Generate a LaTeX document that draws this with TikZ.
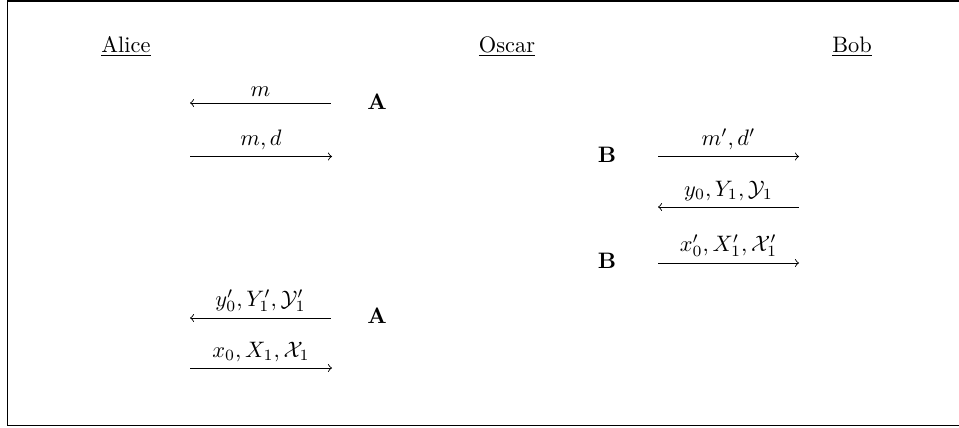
\documentclass[tikz,border=0pt]{standalone}
\usetikzlibrary{positioning}
\begin{document}
\begin{tikzpicture}[x=0.447pt,y=-0.447pt,
    msg/.style={above, inner sep=2.6pt},
    stage/.style={anchor=base, font=\bfseries}]
    \useasboundingbox (0,0) rectangle (959,427);

    % frame, open to the right
    \draw[line width=0.6pt] (959,1) -- (7.5,1) -- (7.5,425.5) -- (959,425.5);

    % parties
    \node[anchor=base] (alice) at (126,52) {\underline{Alice}};
    \node[anchor=base] (oscar) at (507,52) {\underline{Oscar}};
    \node[anchor=base] (bob) at (852,52) {\underline{Bob}};

    % Alice <-> Oscar, first round
    \coordinate (p1l) at (190,103);
    \coordinate (p1r) at (331,103);
    \draw[<-] (p1l) -- node[msg] (m1) {$m$} (p1r);
    \node[stage] (a1) at (377,109) {A};

    \coordinate (p2l) at (190,156.5);
    \coordinate (p2r) at (332,156.5);
    \draw[->] (p2l) -- node[msg] (m2) {$m, d$} (p2r);

    % Oscar <-> Bob
    \node[stage] (b1) at (607,162) {B};
    \coordinate (q1l) at (658,156.5);
    \coordinate (q1r) at (799,156.5);
    \draw[->] (q1l) -- node[msg] (n1) {$m', d'$} (q1r);

    \coordinate (q2l) at (658,207);
    \coordinate (q2r) at (799,207);
    \draw[<-] (q2l) -- node[msg] (n2) {$y_0, Y_1, \mathcal{Y}_1$} (q2r);

    \node[stage] (b2) at (607,268) {B};
    \coordinate (q3l) at (658,263);
    \coordinate (q3r) at (799,263);
    \draw[->] (q3l) -- node[msg] (n3) {$x'_0, X'_1, \mathcal{X}'_1$} (q3r);

    % Alice <-> Oscar, second round
    \coordinate (p3l) at (190,318);
    \coordinate (p3r) at (331,318);
    \draw[<-] (p3l) -- node[msg] (m3) {$y'_0, Y'_1, \mathcal{Y}'_1$} (p3r);
    \node[stage] (a2) at (377,323) {A};

    \coordinate (p4l) at (190,368);
    \coordinate (p4r) at (332,368);
    \draw[->] (p4l) -- node[msg] (m4) {$x_0, X_1, \mathcal{X}_1$} (p4r);
\end{tikzpicture}
\end{document}
